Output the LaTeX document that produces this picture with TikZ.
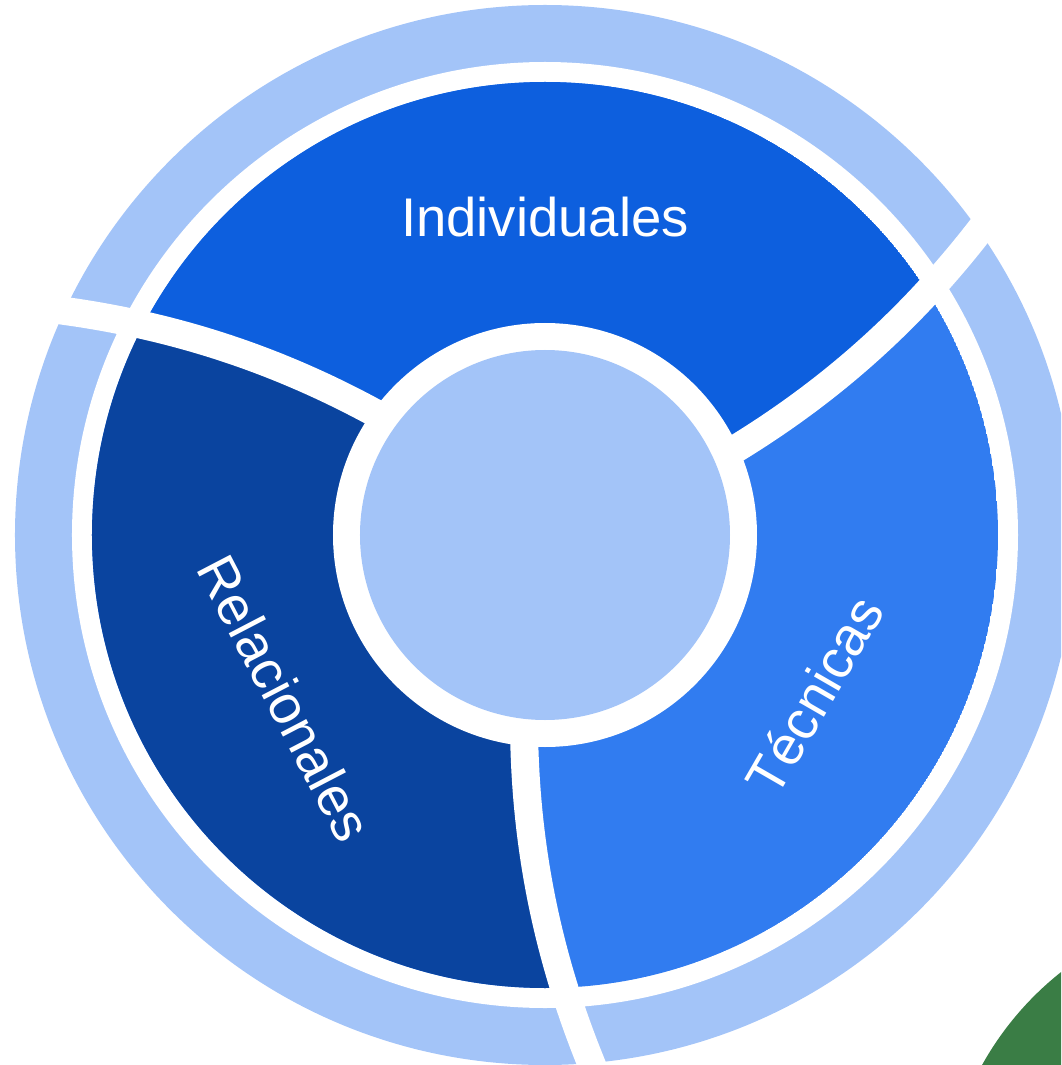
\documentclass[tikz,border=0pt]{standalone}
\usepackage{fontspec}
\setmainfont{Liberation Sans}
\definecolor{ringlight}{HTML}{A3C4F8}
\definecolor{indblue}{HTML}{0D5FDE}
\definecolor{relblue}{HTML}{0A449F}
\definecolor{tecblue}{HTML}{317CF0}
\definecolor{leafgreen}{HTML}{3A7D45}
% curved cut between two parts, turned by #1 degrees
\newcommand{\sepcurve}[1]{({263.69+#1}:1.912) .. controls ({266.53+#1}:3.306) and ({271.27+#1}:4.501) .. ({276.26+#1}:5.684)}
% one side of a cut (#2 = 90 or -90)
\newcommand{\sepside}[2]{\sepcurve{#1} -- ({276.26+#1+(#2)}:12) -- ({276.26+#1+2*(#2)}:12) -- (0,0) -- cycle}
\begin{document}
\begin{tikzpicture}[
    sepband/.style={white, line width=2.8mm},
    lbl/.style={text=white, font=\fontsize{15.5}{18}\selectfont}]
    \useasboundingbox (-5.45,-5.30) rectangle (5.16,5.35);
    \clip (-5.45,-5.30) rectangle (5.16,5.35);
    % outer ring
    \fill[ringlight] (0,0) circle (5.30);
    \fill[white] (0,0) circle (4.73);
    % the three parts
    \begin{scope}
        \clip (0,0) circle (4.53);
        \fill[tecblue] (0,0) circle (4.53);
        \begin{scope}
            \clip \sepside{120}{90};
            \clip \sepside{240}{-90};
            \fill[indblue] (0,0) circle (4.53);
        \end{scope}
        \begin{scope}
            \clip \sepside{240}{90};
            \clip \sepside{0}{-90};
            \fill[relblue] (0,0) circle (4.53);
        \end{scope}
    \end{scope}
    % white cuts
    \foreach \a in {0,120,240}
        \draw[sepband] \sepcurve{\a};
    % centre
    \fill[white] (0,0) circle (2.12);
    \fill[ringlight] (0,0) circle (1.85);
    % green corner
    \fill[leafgreen] (7.09,-6.81) circle (3.11);
    % labels
    \node[lbl] (ind) at (0,3.18) {Individuales};
    \node[lbl, rotate=-62.5] (rel) at (-2.60,-1.63) {Relacionales};
    \node[lbl, rotate=60] (tec) at (2.69,-1.60) {Técnicas};
\end{tikzpicture}
\end{document}
